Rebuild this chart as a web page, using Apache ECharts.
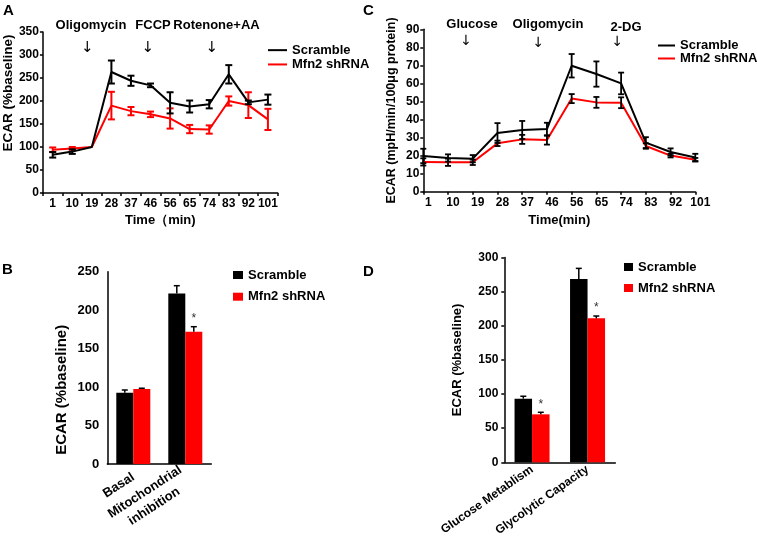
<!DOCTYPE html>
<html><head><meta charset="utf-8">
<script src="https://cdn.jsdelivr.net/npm/echarts@6/dist/echarts.min.js"></script>
<style>html,body{margin:0;padding:0;background:#fff}#c{width:757px;height:543px}</style>
</head><body><div id="c"></div>
<script>
// ---- Panel A: ECAR time course (%baseline)
const timeA = ['1','10','19','28','37','46','56','65','74','83','92','101'];
const scrambleA    = [83, 90, 100, 263, 244, 234, 196, 188, 193, 258, 197, 203];
const scrambleAErr = [6, 5, 0, 25, 11, 4, 23, 13, 9, 20, 4, 11];
const shrnaA       = [94, 97, 100, 190, 178, 171, 162, 139, 138, 200, 191, 160];
const shrnaAErr    = [5, 3, 0, 30, 9, 6, 22, 9, 9, 10, 28, 23];

// ---- Panel C: ECAR time course (mpH/min/100ug protein)
const timeC = ['1','10','19','28','37','46','56','65','74','83','92','101'];
const scrambleC    = [19.8, 18.7, 18.3, 32.5, 34.2, 34.7, 69.8, 65.2, 60, 27.2, 22, 19];
const scrambleCErr = [4, 2, 2, 5.5, 5, 3.5, 6.5, 7, 6, 3, 2, 2];
const shrnaC       = [16.5, 16.3, 16.3, 26.8, 29, 28.6, 51.6, 49.5, 49.3, 25.3, 20, 17.7];
const shrnaCErr    = [2, 2, 1.5, 1.5, 2.5, 2.5, 2.5, 3, 3, 1.5, 1, 1];

// ---- Panel B
const catsB = ['Basal', 'Mitochondrial\ninhibition'];
const scrambleB    = [92.7, 221.8];
const scrambleBErr = [3.5, 10];
const shrnaB       = [97.5, 172];
const shrnaBErr    = [1, 6.5];
const sigB = ['', '*'];

// ---- Panel D
const catsD = ['Glucose Metablism', 'Glycolytic Capacity'];
const scrambleD    = [93.3, 268.6];
const scrambleDErr = [3.5, 15.6];
const shrnaD       = [70.3, 211];
const shrnaDErr    = [3, 3.4];
const sigD = ['*', '*'];

const FONT = 'Liberation Sans, Arial, sans-serif';
const BLACK = '#000000', RED = '#ff0000';

function errData(vals, errs, sig) {
  return vals.map((v, i) => [i, v, errs[i], sig ? sig[i] : '']);
}
function errRender(capW, color, lw, offset, upOnly) {
  return function (params, api) {
    const x = api.value(0), y = api.value(1), e = api.value(2);
    const c = api.coord([x, y]);
    const hi = api.coord([x, y + e]);
    const lo = api.coord([x, upOnly ? y : y - e]);
    const cx = c[0] + offset;
    const st = { stroke: color, lineWidth: lw, fill: null };
    const ch = [];
    if (e > 0) {
      ch.push({ type: 'line', shape: { x1: cx, y1: hi[1], x2: cx, y2: lo[1] }, style: st });
      ch.push({ type: 'line', shape: { x1: cx - capW / 2, y1: hi[1], x2: cx + capW / 2, y2: hi[1] }, style: st });
      if (!upOnly) ch.push({ type: 'line', shape: { x1: cx - capW / 2, y1: lo[1], x2: cx + capW / 2, y2: lo[1] }, style: st });
    }
    const mark = api.value(3);
    if (mark && typeof mark === 'string') {
      ch.push({ type: 'text', style: { text: mark, x: cx, y: hi[1] - 2, textAlign: 'center', textVerticalAlign: 'bottom', fill: '#333', font: '12px ' + FONT } });
    }
    return { type: 'group', children: ch };
  };
}

const axisLineStyle = { color: '#000', width: 1.5 };
const tickLbl = (fs) => ({ color: '#000', fontWeight: 'bold', fontSize: fs, fontFamily: FONT });
const legendText = (lh) => ({ color: '#000', fontWeight: 'bold', fontSize: 13, fontFamily: FONT, lineHeight: lh });
const legendData = [{ name: 'Scramble', itemStyle: { color: BLACK } }, { name: 'Mfn2 shRNA', itemStyle: { color: RED } }];
const richLine = { color: '#000', fontWeight: 'bold', fontSize: 13, fontFamily: FONT, align: 'center', lineHeight: 17 };

const chart = echarts.init(document.getElementById('c'), null, { renderer: 'canvas' });
chart.setOption({
  animation: false,
  backgroundColor: '#fff',
  grid: [
    { left: 42.7, top: 32, width: 235, height: 161 },      // A
    { left: 423.3, top: 29.3, width: 272, height: 162.4 }, // C
    { left: 107.3, top: 271.7, width: 104, height: 192.3 },// B
    { left: 504.3, top: 257.6, width: 111, height: 204.7 } // D
  ],
  xAxis: [
    { gridIndex: 0, type: 'category', data: timeA, boundaryGap: true,
      name: 'Time（min)', nameLocation: 'middle', nameGap: 21,
      nameTextStyle: { color: '#000', fontWeight: 'bold', fontSize: 13, fontFamily: FONT },
      axisLine: { lineStyle: axisLineStyle }, axisTick: { show: true, length: 3, lineStyle: axisLineStyle },
      axisLabel: Object.assign({ interval: 0, margin: 5 }, tickLbl(12)) },
    { gridIndex: 1, type: 'category', data: timeC, boundaryGap: false,
      name: 'Time(min)', nameLocation: 'middle', nameGap: 22,
      nameTextStyle: { color: '#000', fontWeight: 'bold', fontSize: 13, fontFamily: FONT },
      axisLine: { lineStyle: axisLineStyle }, axisTick: { show: true, length: 3, interval: 0, lineStyle: axisLineStyle },
      axisLabel: Object.assign({ interval: 0, margin: 5, padding: [0, 0, 0, 10] }, tickLbl(12)) },
    { gridIndex: 2, type: 'category', data: catsB,
      axisLine: { lineStyle: axisLineStyle }, axisTick: { show: false },
      axisLabel: Object.assign({ interval: 0, margin: 12, rotate: 33,
        formatter: (v) => v.split('\n').map((s) => '{l|' + s + '}').join('\n'),
        rich: { l: richLine } }, tickLbl(13)) },
    { gridIndex: 3, type: 'category', data: catsD,
      axisLine: { lineStyle: axisLineStyle }, axisTick: { show: false },
      axisLabel: Object.assign({ interval: 0, margin: 6, rotate: 35 }, tickLbl(12)) }
  ],
  yAxis: [
    { gridIndex: 0, type: 'value', min: 0, max: 350, interval: 50,
      name: 'ECAR (%baseline)', nameLocation: 'middle', nameGap: 27,
      nameTextStyle: { color: '#000', fontWeight: 'bold', fontSize: 13.5, fontFamily: FONT, padding: [0, 0, 0, 39] },
      axisLine: { show: true, lineStyle: axisLineStyle }, axisTick: { show: true, length: 3, lineStyle: axisLineStyle },
      splitLine: { show: false }, axisLabel: Object.assign({ margin: 4 }, tickLbl(12)) },
    { gridIndex: 1, type: 'value', min: 0, max: 90, interval: 10,
      name: 'ECAR (mpH/min/100μg protein)', nameLocation: 'middle', nameGap: 25,
      nameTextStyle: { color: '#000', fontWeight: 'bold', fontSize: 12.5, fontFamily: FONT },
      axisLine: { show: true, lineStyle: axisLineStyle }, axisTick: { show: true, length: 3, lineStyle: axisLineStyle },
      splitLine: { show: false }, axisLabel: Object.assign({ margin: 4 }, tickLbl(12)) },
    { gridIndex: 2, type: 'value', min: 0, max: 250, interval: 50,
      name: 'ECAR (%baseline)', nameLocation: 'middle', nameGap: 38,
      nameTextStyle: { color: '#000', fontWeight: 'bold', fontSize: 15, fontFamily: FONT, padding: [0, 44, 0, 0] },
      axisLine: { show: true, lineStyle: axisLineStyle }, axisTick: { show: false },
      splitLine: { show: false }, axisLabel: Object.assign({ margin: 8 }, tickLbl(13)) },
    { gridIndex: 3, type: 'value', min: 0, max: 300, interval: 50,
      name: 'ECAR (%baseline)', nameLocation: 'middle', nameGap: 40,
      nameTextStyle: { color: '#000', fontWeight: 'bold', fontSize: 13, fontFamily: FONT },
      axisLine: { show: true, lineStyle: axisLineStyle }, axisTick: { show: true, length: 3, lineStyle: axisLineStyle },
      splitLine: { show: false }, axisLabel: Object.assign({ margin: 6 }, tickLbl(12)) }
  ],
  legend: [
    { orient: 'vertical', left: 268, top: 43, padding: 0, itemWidth: 19, itemHeight: 2, itemGap: 0, itemTextGap: 4, icon: 'rect',
      textStyle: legendText(14.3), data: legendData },
    { orient: 'vertical', left: 658, top: 39, padding: 0, itemWidth: 17, itemHeight: 2, itemGap: 0, itemTextGap: 4, icon: 'rect',
      textStyle: legendText(12.3), data: legendData },
    { orient: 'vertical', left: 233, top: 268, padding: 0, itemWidth: 10, itemHeight: 8, itemGap: 7.7, itemTextGap: 5, icon: 'rect',
      textStyle: legendText(14), data: legendData },
    { orient: 'vertical', left: 624, top: 260, padding: 0, itemWidth: 9, itemHeight: 8, itemGap: 7, itemTextGap: 4, icon: 'rect',
      textStyle: legendText(14), data: legendData }
  ],
  series: [
    // A
    { name: 'Scramble', type: 'line', xAxisIndex: 0, yAxisIndex: 0, data: scrambleA, symbol: 'none',
      lineStyle: { color: BLACK, width: 2 }, itemStyle: { color: BLACK }, z: 3 },
    { name: 'Mfn2 shRNA', type: 'line', xAxisIndex: 0, yAxisIndex: 0, data: shrnaA, symbol: 'none',
      lineStyle: { color: RED, width: 2 }, itemStyle: { color: RED }, z: 2 },
    { name: 'errA1', type: 'custom', xAxisIndex: 0, yAxisIndex: 0, data: errData(scrambleA, scrambleAErr), renderItem: errRender(7, BLACK, 2, 0, false), z: 4 },
    { name: 'errA2', type: 'custom', xAxisIndex: 0, yAxisIndex: 0, data: errData(shrnaA, shrnaAErr), renderItem: errRender(7, RED, 2, 0, false), z: 3 },
    // C
    { name: 'Scramble', type: 'line', xAxisIndex: 1, yAxisIndex: 1, data: scrambleC, symbol: 'none',
      lineStyle: { color: BLACK, width: 2 }, itemStyle: { color: BLACK }, z: 3 },
    { name: 'Mfn2 shRNA', type: 'line', xAxisIndex: 1, yAxisIndex: 1, data: shrnaC, symbol: 'none',
      lineStyle: { color: RED, width: 2 }, itemStyle: { color: RED }, z: 2 },
    { name: 'errC2', type: 'custom', xAxisIndex: 1, yAxisIndex: 1, data: errData(shrnaC, shrnaCErr), renderItem: errRender(6, BLACK, 1.8, 0, false), z: 4 },
    { name: 'errC1', type: 'custom', xAxisIndex: 1, yAxisIndex: 1, data: errData(scrambleC, scrambleCErr), renderItem: errRender(6, BLACK, 1.8, 0, false), z: 4 },
    // B
    { name: 'Scramble', type: 'bar', xAxisIndex: 2, yAxisIndex: 2, data: scrambleB, barWidth: 17, barGap: '0%', itemStyle: { color: BLACK } },
    { name: 'Mfn2 shRNA', type: 'bar', xAxisIndex: 2, yAxisIndex: 2, data: shrnaB, barWidth: 17, barGap: '0%', itemStyle: { color: RED } },
    { name: 'errB1', type: 'custom', xAxisIndex: 2, yAxisIndex: 2, data: errData(scrambleB, scrambleBErr), renderItem: errRender(6, BLACK, 1.5, -8.5, true), z: 4 },
    { name: 'errB2', type: 'custom', xAxisIndex: 2, yAxisIndex: 2, data: errData(shrnaB, shrnaBErr, sigB), renderItem: errRender(6, BLACK, 1.5, 8.5, true), z: 4 },
    // D
    { name: 'Scramble', type: 'bar', xAxisIndex: 3, yAxisIndex: 3, data: scrambleD, barWidth: 17.5, barGap: '0%', itemStyle: { color: BLACK } },
    { name: 'Mfn2 shRNA', type: 'bar', xAxisIndex: 3, yAxisIndex: 3, data: shrnaD, barWidth: 17.5, barGap: '0%', itemStyle: { color: RED } },
    { name: 'errD1', type: 'custom', xAxisIndex: 3, yAxisIndex: 3, data: errData(scrambleD, scrambleDErr), renderItem: errRender(6, BLACK, 1.5, -8.75, true), z: 4 },
    { name: 'errD2', type: 'custom', xAxisIndex: 3, yAxisIndex: 3, data: errData(shrnaD, shrnaDErr, sigD), renderItem: errRender(6, BLACK, 1.5, 8.75, true), z: 4 }
  ],
  graphic: [
    { type: 'text', left: 3, top: 3, style: { text: 'A', font: 'bold 15px ' + FONT, fill: '#000' } },
    { type: 'text', left: 363, top: 3, style: { text: 'C', font: 'bold 15px ' + FONT, fill: '#000' } },
    { type: 'text', left: 2, top: 262, style: { text: 'B', font: 'bold 15px ' + FONT, fill: '#000' } },
    { type: 'text', left: 363, top: 264, style: { text: 'D', font: 'bold 15px ' + FONT, fill: '#000' } },
    // A annotations
    { type: 'text', x: 91, y: 25, style: { text: 'Oligomycin', font: 'bold 13px ' + FONT, fill: '#000', textAlign: 'center', textVerticalAlign: 'middle' } },
    { type: 'text', x: 153, y: 25, style: { text: 'FCCP', font: 'bold 13px ' + FONT, fill: '#000', textAlign: 'center', textVerticalAlign: 'middle' } },
    { type: 'text', x: 216.5, y: 25, style: { text: 'Rotenone+AA', font: 'bold 13px ' + FONT, fill: '#000', textAlign: 'center', textVerticalAlign: 'middle' } },
    { type: 'text', x: 87.3, y: 48, style: { text: '↓', font: '15px DejaVu Sans', fill: '#000', textAlign: 'center', textVerticalAlign: 'middle' } },
    { type: 'text', x: 147.7, y: 48, style: { text: '↓', font: '15px DejaVu Sans', fill: '#000', textAlign: 'center', textVerticalAlign: 'middle' } },
    { type: 'text', x: 211.7, y: 48, style: { text: '↓', font: '15px DejaVu Sans', fill: '#000', textAlign: 'center', textVerticalAlign: 'middle' } },
    // C annotations
    { type: 'text', x: 472, y: 24, style: { text: 'Glucose', font: 'bold 13px ' + FONT, fill: '#000', textAlign: 'center', textVerticalAlign: 'middle' } },
    { type: 'text', x: 548, y: 24, style: { text: 'Oligomycin', font: 'bold 13px ' + FONT, fill: '#000', textAlign: 'center', textVerticalAlign: 'middle' } },
    { type: 'text', x: 626, y: 27, style: { text: '2-DG', font: 'bold 13px ' + FONT, fill: '#000', textAlign: 'center', textVerticalAlign: 'middle' } },
    { type: 'text', x: 466, y: 41, style: { text: '↓', font: '14px DejaVu Sans', fill: '#000', textAlign: 'center', textVerticalAlign: 'middle' } },
    { type: 'text', x: 538.3, y: 43, style: { text: '↓', font: '14px DejaVu Sans', fill: '#000', textAlign: 'center', textVerticalAlign: 'middle' } },
    { type: 'text', x: 617.3, y: 42, style: { text: '↓', font: '14px DejaVu Sans', fill: '#000', textAlign: 'center', textVerticalAlign: 'middle' } }
  ]
});
</script>
</body></html>
